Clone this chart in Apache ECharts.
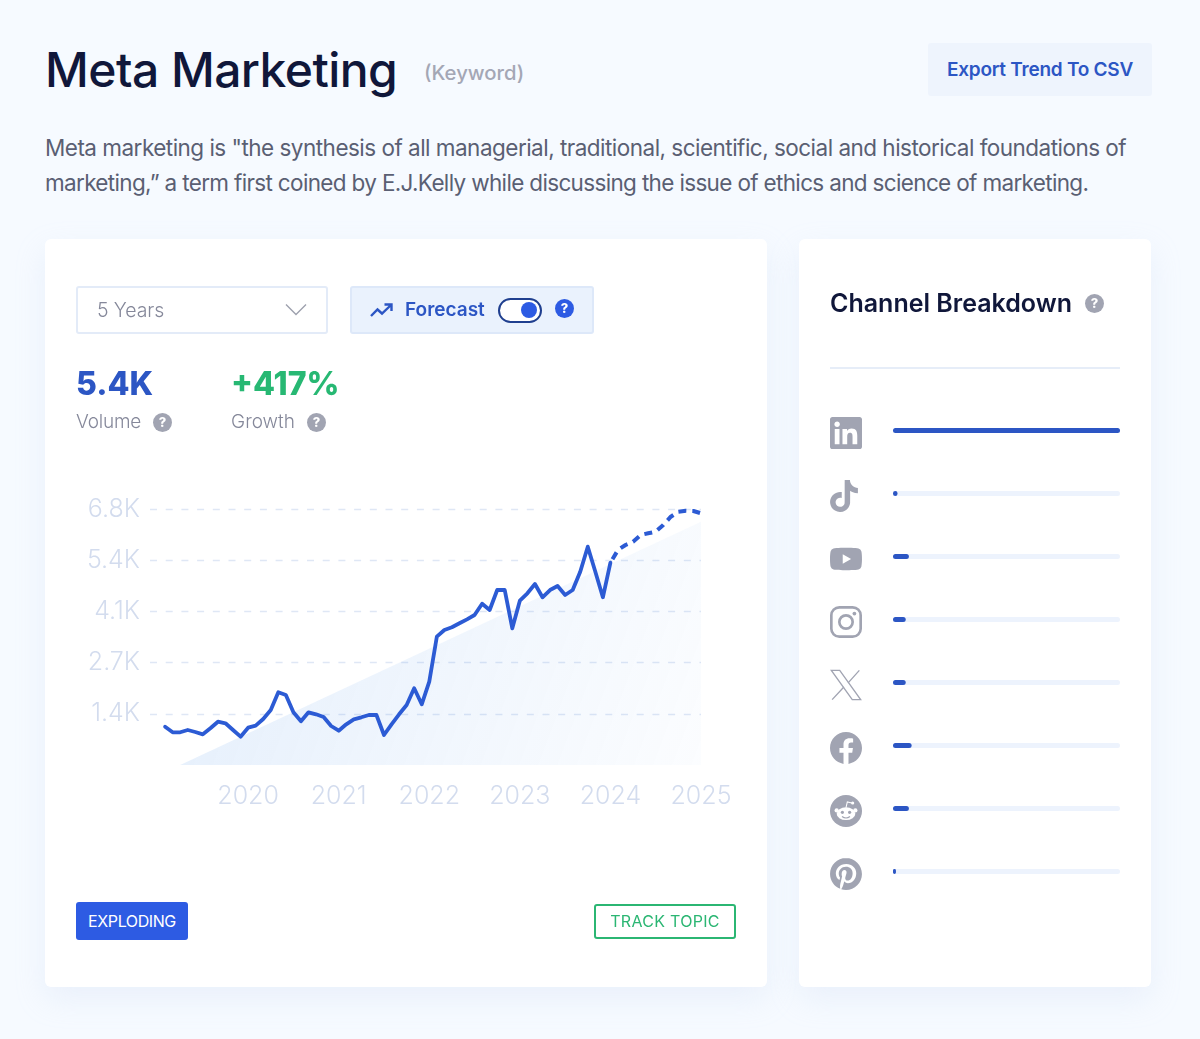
<!DOCTYPE html>
<html>
<head>
<meta charset="utf-8">
<title>Meta Marketing</title>
<script src="https://cdn.jsdelivr.net/npm/echarts@6/dist/echarts.min.js"></script>
<style>
html,body{margin:0;padding:0;}
body{width:1200px;height:1039px;position:relative;overflow:hidden;background:#f6faff;font-family:Inter,"Noto Sans",sans-serif;}
.abs{position:absolute;white-space:nowrap;}
.card{position:absolute;background:#fff;border-radius:6px;box-shadow:0 12px 30px rgba(190,208,236,.22);top:239px;height:748px;}
.help{position:absolute;width:19px;height:19px;border-radius:50%;background:#a1a4b2;color:#fff;font-size:13px;font-weight:800;line-height:19px;text-align:center;}
.icon{position:absolute;left:830px;width:32px;height:32px;fill:#a1a4b2;}
</style>
</head>
<body>
<div class="abs" style="left:45px;top:39.5px;font-size:48px;line-height:60px;font-weight:500;color:#10173a;letter-spacing:-.55px;">Meta Marketing</div>
<div class="abs" style="left:424px;top:59px;font-size:20.3px;line-height:28px;font-weight:500;color:#a4a7b5;">(Keyword)</div>
<div class="abs" style="left:928px;top:43px;width:224px;height:53px;background:#eef4fd;border-radius:3px;text-align:center;line-height:53px;font-size:19px;font-weight:600;color:#2c56c4;letter-spacing:-.25px;">Export Trend To CSV</div>
<div class="abs" style="left:45px;top:130px;font-size:22.5px;line-height:35px;font-weight:400;color:#5a5f73;letter-spacing:-.52px;">Meta marketing is "the synthesis of all managerial, traditional, scientific, social and historical foundations of<br><span style="letter-spacing:-.66px;">marketing,” a term first coined by E.J.Kelly while discussing the issue of ethics and science of marketing.</span></div>

<div class="card" style="left:45px;width:722px;"></div>
<div class="card" style="left:799px;width:352px;"></div>

<div id="trend" style="position:absolute;left:45px;top:239px;width:722px;height:748px;"></div>
<div id="channels" style="position:absolute;left:799px;top:239px;width:352px;height:748px;"></div>

<!-- controls -->
<div class="abs" style="left:76px;top:286px;width:248px;height:44px;border:2px solid #e3ebf8;border-radius:3px;"></div>
<div class="abs" style="left:97px;top:296px;font-size:19.5px;line-height:28px;font-weight:300;color:#85889a;letter-spacing:-.1px;">5 Years</div>
<svg class="abs" style="left:285px;top:303px;" width="22" height="13"><path d="M1 1.5 L11 11.5 L21 1.5" fill="none" stroke="#9ea1ae" stroke-width="1.4"/></svg>
<div class="abs" style="left:350px;top:286px;width:240px;height:44px;border:2px solid #dde8f9;border-radius:3px;background:#eaf2fd;"></div>
<svg class="abs" style="left:369px;top:302px;" width="25" height="17"><path d="M2 14 L8.5 7.5 L13 11.5 L22 3 M15.5 2.5 L22.5 2.5 L22.5 9" fill="none" stroke="#2c56c4" stroke-width="2.4"/></svg>
<div class="abs" style="left:405px;top:297px;font-size:19px;line-height:26px;font-weight:600;color:#2c56c4;">Forecast</div>
<div class="abs" style="left:498px;top:298px;width:40px;height:21px;border:2px solid #1f3f8f;border-radius:13px;background:#fff;"></div>
<div class="abs" style="left:521px;top:302px;width:16px;height:16px;border-radius:50%;background:#2d5be3;"></div>
<div class="help" style="left:555px;top:299px;background:#2d5be3;">?</div>

<!-- stats -->
<div class="abs" style="left:76px;top:363px;font-size:32px;line-height:42px;font-weight:800;color:#2c56c4;">5.4K</div>
<div class="abs" style="left:231px;top:363px;font-size:32px;line-height:42px;font-weight:800;color:#27b873;">+417%</div>
<div class="abs" style="left:76px;top:408px;font-size:19px;line-height:28px;font-weight:300;color:#85889a;letter-spacing:-.2px;">Volume</div>
<div class="help" style="left:153px;top:413px;">?</div>
<div class="abs" style="left:231px;top:408px;font-size:19px;line-height:28px;font-weight:300;color:#85889a;">Growth</div>
<div class="help" style="left:307px;top:413px;">?</div>

<!-- bottom buttons -->
<div class="abs" style="left:76px;top:902px;width:112px;height:38px;background:#2d5be3;border-radius:3px;color:#fff;font-size:16px;line-height:38px;text-align:center;font-weight:400;letter-spacing:-.4px;">EXPLODING</div>
<div class="abs" style="left:594px;top:904px;width:138px;height:31px;border:2px solid #2bb673;border-radius:3px;color:#2bb673;font-size:16px;line-height:31px;text-align:center;font-weight:400;letter-spacing:.3px;">TRACK TOPIC</div>

<!-- channel panel -->
<div class="abs" style="left:830px;top:286px;font-size:25px;line-height:34px;font-weight:600;color:#10173a;">Channel Breakdown</div>
<div class="help" style="left:1085px;top:294px;">?</div>
<div class="abs" style="left:830px;top:367px;width:290px;height:2px;background:#e6edf8;"></div>

<svg class="icon" style="top:417px;" viewBox="0 0 24 24"><path d="M20.447 20.452h-3.554v-5.569c0-1.328-.027-3.037-1.852-3.037-1.853 0-2.136 1.445-2.136 2.939v5.667H9.351V9h3.414v1.561h.046c.477-.9 1.637-1.85 3.37-1.85 3.601 0 4.267 2.37 4.267 5.455v6.286zM5.337 7.433c-1.144 0-2.063-.926-2.063-2.065 0-1.138.92-2.063 2.063-2.063 1.14 0 2.064.925 2.064 2.063 0 1.139-.925 2.065-2.064 2.065zm1.782 13.019H3.555V9h3.564v11.452zM22.225 0H1.771C.792 0 0 .774 0 1.729v20.542C0 23.227.792 24 1.771 24h20.451C23.2 24 24 23.227 24 22.271V1.729C24 .774 23.2 0 22.222 0h.003z"/></svg>
<svg class="icon" style="top:480px;left:828px;" viewBox="0 0 24 24"><path d="M12.525.02c1.31-.02 2.61-.01 3.91-.02.08 1.53.63 3.09 1.75 4.17 1.12 1.11 2.7 1.62 4.24 1.79v4.03c-1.44-.05-2.89-.35-4.2-.97-.57-.26-1.1-.59-1.62-.93-.01 2.92.01 5.84-.02 8.75-.08 1.4-.54 2.79-1.35 3.94-1.31 1.92-3.58 3.17-5.91 3.21-1.43.08-2.86-.31-4.08-1.03-2.02-1.19-3.44-3.37-3.65-5.71-.02-.5-.03-1-.01-1.49.18-1.9 1.12-3.72 2.58-4.96 1.66-1.44 3.98-2.13 6.15-1.72.02 1.48-.04 2.96-.04 4.44-.99-.32-2.15-.23-3.02.37-.63.41-1.11 1.04-1.36 1.75-.21.51-.15 1.07-.14 1.61.24 1.64 1.82 3.02 3.5 2.87 1.12-.01 2.19-.66 2.77-1.61.19-.33.4-.67.41-1.06.1-1.79.06-3.57.07-5.36.01-4.03-.01-8.05.02-12.07z"/></svg>
<svg class="icon" style="top:543px;" viewBox="0 0 24 24"><path d="M23.498 6.186a3.016 3.016 0 0 0-2.122-2.136C19.505 3.545 12 3.545 12 3.545s-7.505 0-9.377.505A3.017 3.017 0 0 0 .502 6.186C0 8.07 0 12 0 12s0 3.93.502 5.814a3.016 3.016 0 0 0 2.122 2.136c1.871.505 9.376.505 9.376.505s7.505 0 9.377-.505a3.015 3.015 0 0 0 2.122-2.136C24 15.93 24 12 24 12s0-3.93-.502-5.814zM9.545 15.568V8.432L15.818 12l-6.273 3.568z"/></svg>
<svg class="icon" style="top:606px;" viewBox="0 0 24 24"><rect x="1" y="1" width="22" height="22" rx="6" fill="none" stroke="#a1a4b2" stroke-width="2"/><circle cx="12" cy="12" r="5" fill="none" stroke="#a1a4b2" stroke-width="2"/><circle cx="18.3" cy="5.7" r="1.4"/></svg>
<svg class="icon" style="top:669px;" viewBox="0 0 24 24"><path d="M1 1h6.3L23 23h-6.3Z" fill="none" stroke="#a1a4b2" stroke-width="1"/><path d="M22 1 L13.6 10.4 M1.6 23 L10.4 13.5" fill="none" stroke="#a1a4b2" stroke-width="1"/></svg>
<svg class="icon" style="top:732px;" viewBox="0 0 24 24"><path d="M24 12.073c0-6.627-5.373-12-12-12s-12 5.373-12 12c0 5.99 4.388 10.954 10.125 11.854v-8.385H7.078v-3.47h3.047V9.43c0-3.007 1.792-4.669 4.533-4.669 1.312 0 2.686.235 2.686.235v2.953H15.83c-1.491 0-1.956.925-1.956 1.874v2.25h3.328l-.532 3.47h-2.796v8.385C19.612 23.027 24 18.062 24 12.073z"/></svg>
<svg class="icon" style="top:795px;" viewBox="0 0 24 24"><circle cx="12" cy="12" r="12"/><ellipse cx="12" cy="14" rx="7" ry="4.8" fill="#fff"/><circle cx="5" cy="11.6" r="1.6" fill="#fff"/><circle cx="19" cy="11.6" r="1.6" fill="#fff"/><circle cx="9.3" cy="13" r="1.2"/><circle cx="14.7" cy="13" r="1.2"/><path d="M9 16.2c1.7 1.2 4.3 1.2 6 0" fill="none" stroke="#a1a4b2" stroke-width=".9"/><path d="M12 9.4 L13 5.2 L16.4 6" fill="none" stroke="#fff" stroke-width=".8"/><circle cx="17" cy="6" r="1.2" fill="#fff"/></svg>
<svg class="icon" style="top:858px;" viewBox="0 0 24 24"><path d="M12.017 0C5.396 0 .029 5.367.029 11.987c0 5.079 3.158 9.417 7.618 11.162-.105-.949-.199-2.403.041-3.439.219-.937 1.406-5.957 1.406-5.957s-.359-.72-.359-1.781c0-1.663.967-2.911 2.168-2.911 1.024 0 1.518.769 1.518 1.688 0 1.029-.653 2.567-.992 3.992-.285 1.193.6 2.165 1.775 2.165 2.128 0 3.768-2.245 3.768-5.487 0-2.861-2.063-4.869-5.008-4.869-3.41 0-5.409 2.562-5.409 5.199 0 1.033.394 2.143.889 2.741.099.12.112.225.085.345-.09.375-.293 1.199-.334 1.363-.053.225-.172.271-.401.165-1.495-.69-2.433-2.878-2.433-4.646 0-3.776 2.748-7.252 7.92-7.252 4.158 0 7.392 2.967 7.392 6.923 0 4.135-2.607 7.462-6.233 7.462-1.214 0-2.354-.629-2.758-1.379l-.749 2.848c-.269 1.045-1.004 2.352-1.498 3.146 1.123.345 2.306.535 3.55.535 6.607 0 11.985-5.365 11.985-11.987C23.97 5.39 18.592.026 11.985.026L12.017 0z"/></svg>

<script>
// months on the x axis, Dec 2018 to Jan 2025
var months = [
    "2018-12",
    "2019-01","2019-02","2019-03","2019-04","2019-05","2019-06","2019-07","2019-08","2019-09","2019-10","2019-11","2019-12",
    "2020-01","2020-02","2020-03","2020-04","2020-05","2020-06","2020-07","2020-08","2020-09","2020-10","2020-11","2020-12",
    "2021-01","2021-02","2021-03","2021-04","2021-05","2021-06","2021-07","2021-08","2021-09","2021-10","2021-11","2021-12",
    "2022-01","2022-02","2022-03","2022-04","2022-05","2022-06","2022-07","2022-08","2022-09","2022-10","2022-11","2022-12",
    "2023-01","2023-02","2023-03","2023-04","2023-05","2023-06","2023-07","2023-08","2023-09","2023-10","2023-11","2023-12",
    "2024-01","2024-02","2024-03","2024-04","2024-05","2024-06","2024-07","2024-08","2024-09","2024-10","2024-11","2024-12",
    "2025-01"
];
// search volume Feb 2019 - Jan 2024
var volume = [
    1017,869,869,930,877,815,975,1150,1108,930,752,
    991,1044,1222,1461,1931,1859,1400,1161,1400,1347,1275,1036,
    911,1081,1214,1267,1328,1328,797,1081,1347,1594,2037,1612,
    2213,3408,3586,3658,3764,3870,3984,4285,4117,4648,4648,3631,
    4364,4561,4808,4455,4648,4755,4516,4648,5135,5799,5135,4455,
    5374
];
// forecast Jan 2024 - Jan 2025
var forecast = [5374,5711,5844,5931,6109,6154,6197,6375,6595,6728,6755,6747,6685];
// straight shaded trend behind the line
var trendMonths = ["2019-04","2025-01"];
var trendValues = [0,6463];

var yTicks = [0,1360,2720,4080,5440,6800];
var yTickLabels = ["","1.4K","2.7K","4.1K","5.4K","6.8K"];
var xTickMonths = ["2020-01","2021-01","2022-01","2023-01","2024-01","2025-01"];
var xTickLabels = ["2020","2021","2022","2023","2024","2025"];

var channels = ["LinkedIn","TikTok","YouTube","Instagram","X","Facebook","Reddit","Pinterest"];
var channelShare = [100,2,7,5.6,5.6,8.2,7,1.3];

function pairs(names,vals){
    var res = [];
    for(var i=0;i<vals.length;i++){
        res.push([names[i],vals[i]]);
    }
    return res;
}

var labelFont = {fontFamily:"Inter",fontWeight:300,fontSize:25,color:"#d3dcee"};

var trendChart = echarts.init(document.getElementById("trend"));
trendChart.setOption({
    animation:false,
    grid:{left:105,right:66,top:270,bottom:222},
    xAxis:{
        type:"category",
        data:months,
        boundaryGap:false,
        axisLine:{show:false},
        axisTick:{show:false},
        splitLine:{show:false},
        axisLabel:Object.assign({},labelFont,{
            margin:19,
            hideOverlap:false,
            interval:function(i,name){ return xTickMonths.indexOf(name)>=0; },
            formatter:function(name){ return xTickLabels[xTickMonths.indexOf(name)]; }
        })
    },
    yAxis:{
        type:"value",
        min:yTicks[0],
        max:yTicks[yTicks.length-1],
        interval:yTicks[1],
        axisLine:{show:false},
        axisTick:{show:false},
        axisLabel:Object.assign({},labelFont,{
            margin:10,
            formatter:function(v){ return yTickLabels[yTicks.indexOf(v)]; }
        }),
        splitLine:{
            show:true,
            showMinLine:false,
            lineStyle:{color:"#dfe7f5",width:1.3,type:[7,8.7]}
        }
    },
    series:[
        {
            name:"Trend",
            type:"line",
            symbol:"none",
            silent:true,
            lineStyle:{opacity:0,width:0},
            areaStyle:{
                opacity:1,
                color:new echarts.graphic.LinearGradient(0,0.2,1,1,[
                    {offset:0,color:"rgba(66,140,232,0.14)"},
                    {offset:1,color:"rgba(66,140,232,0.02)"}
                ])
            },
            data:pairs(trendMonths,trendValues),
            z:1
        },
        {
            name:"Volume",
            type:"line",
            symbol:"none",
            lineStyle:{color:"#2c5bd4",width:3.8,join:"round",cap:"round"},
            data:pairs(months.slice(2),volume),
            z:3
        },
        {
            name:"Forecast",
            type:"line",
            symbol:"none",
            lineStyle:{color:"#2c5bd4",width:4,type:[8,6],dashOffset:10},
            data:pairs(months.slice(61),forecast),
            z:2
        }
    ]
});

var channelChart = echarts.init(document.getElementById("channels"));
channelChart.setOption({
    animation:false,
    grid:{left:94,width:227,top:160,height:504},
    xAxis:{type:"value",min:0,max:100,show:false},
    yAxis:{type:"category",inverse:true,data:channels,show:false},
    series:[{
        name:"Channel",
        type:"bar",
        barWidth:5,
        showBackground:true,
        backgroundStyle:{color:"#edf3fd",borderRadius:3},
        itemStyle:{color:"#2c56c4",borderRadius:3},
        data:channelShare
    }]
});
</script>
</body>
</html>
